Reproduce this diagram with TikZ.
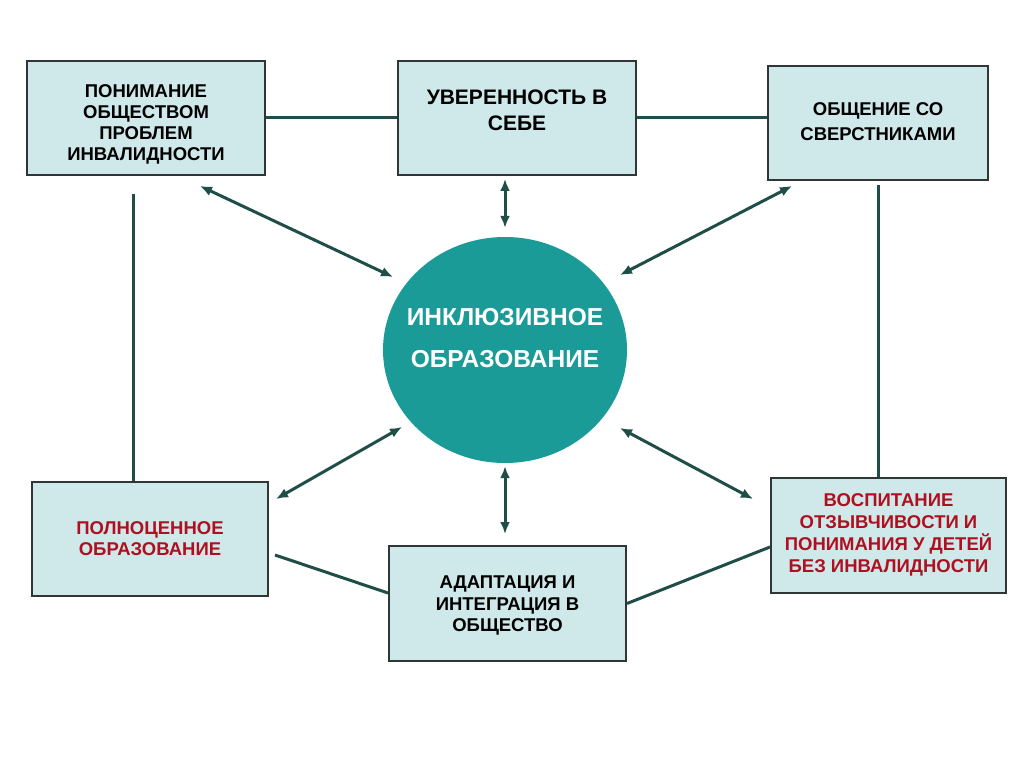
\documentclass[tikz,border=0pt]{standalone}
\usepackage{fontspec}
\setmainfont{Liberation Sans}
\usetikzlibrary{arrows.meta,calc,shapes.geometric}
\definecolor{boxfill}{HTML}{CFE8EA}
\definecolor{boxline}{HTML}{303535}
\definecolor{circfill}{HTML}{1B9B97}
\definecolor{linkcol}{HTML}{1F4D48}
\definecolor{redtext}{HTML}{AE1020}
\begin{document}
\begin{tikzpicture}[x=1pt,y=-1pt,
  box/.style={draw=boxline,line width=2pt,fill=boxfill,rectangle,inner sep=0pt},
  txt/.style={align=center,font=\bfseries\fontsize{18.5}{21}\selectfont,text=black,inner sep=0pt},
  redtxt/.style={txt,text=redtext},
  link/.style={draw=linkcol,line width=3pt},
  arr/.style={link,{Latex[length=12pt,width=10pt]}-{Latex[length=12pt,width=10pt]}}]
\useasboundingbox[fill=white] (0,0) rectangle (1024,767);

\node[box,minimum width=238pt,minimum height=114pt,
  label={[txt,yshift=-6pt]center:{ПОНИМАНИЕ\\ОБЩЕСТВОМ\\ПРОБЛЕМ\\ИНВАЛИДНОСТИ}}] (b1) at (146,118) {};
\node[box,minimum width=238pt,minimum height=114pt,
  label={[txt,font=\bfseries\fontsize{21}{26}\selectfont,yshift=8pt]center:{УВЕРЕННОСТЬ В\\СЕБЕ}}] (b2) at (517,118) {};
\node[box,minimum width=220pt,minimum height=114pt,
  label={[txt,font=\bfseries\fontsize{18.5}{25}\selectfont,yshift=1pt]center:{ОБЩЕНИЕ СО\\СВЕРСТНИКАМИ}}] (b3) at (878,123) {};
\node[box,minimum width=236pt,minimum height=114pt,
  label={[redtxt]center:{ПОЛНОЦЕННОЕ\\ОБРАЗОВАНИЕ}}] (b4) at (150,539) {};
\node[box,minimum width=237pt,minimum height=115pt,
  label={[txt,font=\bfseries\fontsize{18.5}{21.5}\selectfont,yshift=-2pt]center:{АДАПТАЦИЯ И\\ИНТЕГРАЦИЯ В\\ОБЩЕСТВО}}] (b5) at (507.5,603.5) {};
\node[box,minimum width=235pt,minimum height=115pt,
  label={[redtxt,font=\bfseries\fontsize{18.5}{22}\selectfont,yshift=1pt]center:{ВОСПИТАНИЕ\\ОТЗЫВЧИВОСТИ И\\ПОНИМАНИЯ У ДЕТЕЙ\\БЕЗ ИНВАЛИДНОСТИ}}] (b6) at (888.5,535.5) {};

\node[ellipse,fill=circfill,minimum width=244pt,minimum height=226pt,inner sep=0pt,
  label={[align=center,text=white,inner sep=0pt,yshift=12pt,
    font=\bfseries\fontsize{24.5}{42}\selectfont]center:{ИНКЛЮЗИВНОЕ\\ОБРАЗОВАНИЕ}}] (c) at (505,350) {};

% plain connectors
\draw[link] (b1.east) -- (b2.west);
\draw[link] (b2.east) -- (b2.east -| b3.west);
\draw[link] ($(b1.south)+(-13,18)$) -- ($(b1.south |- b4.north)+(-13,0)$);
\draw[link] ($(b3.south)+(0,4)$) -- (b3.south |- b6.north);
\draw[link] ($(b4.east)+(6,16)$) -- ($(b5.west)+(0,-10.5)$);
\draw[link] (b5.east) -- ($(b6.west)+(0,11.5)$);

% arrows
\draw[arr] ($(b1.south)+(54,10)$) -- ($(c.center)+(-112,-73)$);
\draw[arr] ($(c.north |- b2.south)+(0,3)$) -- ($(c.north)+(0,-9)$);
\draw[arr] ($(b3.south)+(-86,5)$) -- ($(c.center)+(115,-75)$);
\draw[arr] ($(b4.east)+(7,-40)$) -- ($(c.center)+(-103,77)$);
\draw[arr] ($(c.south)+(0,3)$) -- ($(c.south |- b5.north)+(0,-11)$);
\draw[arr] ($(c.center)+(115,78)$) -- ($(b6.west)+(-17,-36.5)$);
\end{tikzpicture}
\end{document}
